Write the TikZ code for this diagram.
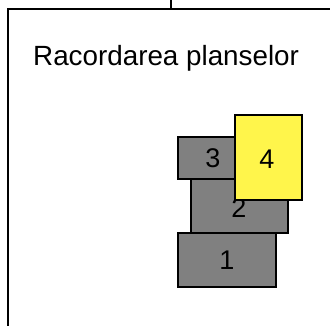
\documentclass[tikz,border=0pt]{standalone}
\usepackage{fontspec}
\setmainfont{Liberation Sans}
\definecolor{plgray}{RGB}{128,128,128}
\definecolor{plyellow}{RGB}{255,245,75}
\begin{document}
\begin{tikzpicture}[x=1pt,y=-1pt,
  plate/.style={draw=black,line width=1.4pt,inner sep=0pt},
  lbl/.style={font=\fontsize{27}{32}\selectfont,inner sep=0pt},
  ttl/.style={font=\fontsize{27.8}{33}\selectfont,inner sep=0pt}]
\useasboundingbox (0,0) rectangle (330,325);
\begin{scope}
\clip (0,0) rectangle (330,325);
\draw[line width=1.6pt] (8,340) -- (8,9) -- (340,9);
\coordinate (top) at (171,0);
\coordinate (topj) at (171,9);
\draw[line width=1.3pt] (top) -- (topj);
\end{scope}
\node[ttl,anchor=base west] (title) at (33,65) {Racordarea planselor};
% plates
\node[plate,fill=plgray,minimum width=98pt,minimum height=54pt] (p1) at (227,260) {};
\node[plate,fill=plgray,minimum width=97pt,minimum height=54pt] (p2) at (239.5,206) {};
\node[plate,fill=plgray,minimum width=70pt,minimum height=42pt] (p3) at (213,158) {};
\node[lbl] (l1) at (p1.center) {1};
\node[lbl] (l2) at (239,208) {2};
\node[lbl] (l3) at (p3.center) {3};
\node[plate,fill=plyellow,minimum width=67pt,minimum height=85pt] (p4) at (268.5,157.5) {};
\node[lbl] (l4) at (267,159) {4};
\end{tikzpicture}
\end{document}
